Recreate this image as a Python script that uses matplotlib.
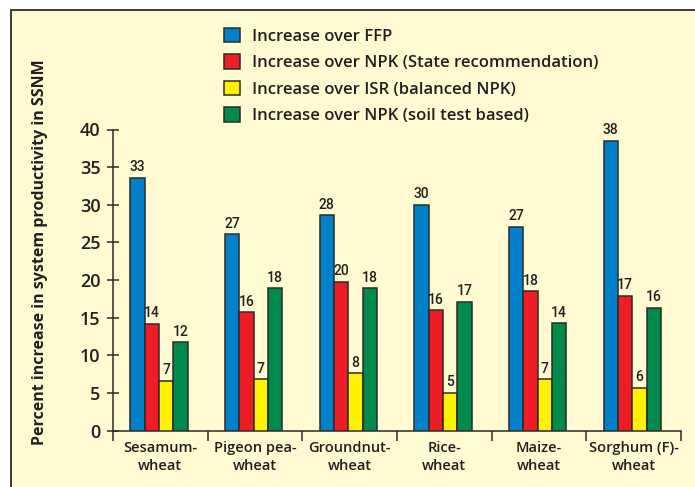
import numpy as np
import matplotlib
matplotlib.use("Agg")
import matplotlib.pyplot as plt
from matplotlib.patches import Rectangle

# data
categories = ["Sesamum-\nwheat", "Pigeon pea-\nwheat", "Groundnut-\nwheat",
              "Rice-\nwheat", "Maize-\nwheat", "Sorghum (F)-\nwheat"]
series_names = ["Increase over FFP",
                "Increase over NPK (State recommendation)",
                "Increase over ISR (balanced NPK)",
                "Increase over NPK (soil test based)"]
ffp = [33.6, 26.1, 28.6, 30.0, 27.1, 38.5]
npk_state = [14.2, 15.7, 19.8, 16.0, 18.5, 17.9]
isr = [6.6, 6.8, 7.6, 5.0, 6.8, 5.7]
npk_soil = [11.7, 18.9, 18.9, 17.1, 14.3, 16.3]
ffp_labels = ["33", "27", "28", "30", "27", "38"]
npk_state_labels = ["14", "16", "20", "16", "18", "17"]
isr_labels = ["7", "7", "8", "5", "7", "6"]
npk_soil_labels = ["12", "18", "18", "17", "14", "16"]
yticks = [0, 5, 10, 15, 20, 25, 30, 35, 40]

COLORS = ["#0081c9", "#ee1c25", "#fff200", "#008a4b"]
BG = "#fffad2"
EDGE = "#2b2b2b"
TXT = "#231f20"
FONT = "Open Sans"
NUM_FONT = "Roboto"

fig = plt.figure(figsize=(6.95, 4.87), dpi=100)
fig.patch.set_facecolor("white")
# cream panel with dark frame (runs past right and bottom edge)
fig.patches.append(Rectangle((11 / 695, -0.05), 1.0, 1 - 9.5 / 487 + 0.05,
                             transform=fig.transFigure, facecolor=BG,
                             edgecolor=EDGE, linewidth=1.3, zorder=-5))

ax = fig.add_axes([113 / 695, (487 - 430.5) / 487, 568 / 695, 301 / 487])
ax.set_facecolor("none")
ax.set_zorder(2)

x = np.arange(len(categories))
w = 0.151
all_vals = [ffp, npk_state, isr, npk_soil]
all_labels = [ffp_labels, npk_state_labels, isr_labels, npk_soil_labels]
for i, (vals, labs, c, name) in enumerate(zip(all_vals, all_labels, COLORS, series_names)):
    pos = x + (i - 1.5) * w - 0.015
    ax.bar(pos, vals, width=w, color=c, edgecolor=EDGE, linewidth=1.1, label=name, zorder=3)
    for p, v, t in zip(pos, vals, labs):
        ax.text(p, v + 0.45, t, ha="center", va="bottom", fontsize=10,
                family=NUM_FONT, fontweight="medium", color=TXT)

ax.set_xlim(-0.5, len(categories) - 0.5)
ax.set_ylim(0, 40)
ax.set_yticks(yticks)
ax.set_yticklabels([str(t) for t in yticks], family=FONT, fontweight="semibold",
                   fontsize=13, color=TXT)
ax.tick_params(axis="y", direction="inout", length=8, width=1.1, color=EDGE, pad=5)

ax.set_xticks(np.arange(len(categories) + 1) - 0.5)
ax.set_xticklabels([])
ax.tick_params(axis="x", direction="out", length=7, width=1.1, color=EDGE)
for xi, cat in zip(x, categories):
    ax.text(xi, -1.35, cat, ha="center", va="top", family=FONT, fontweight="semibold",
            fontsize=10.5, color=TXT, linespacing=1.4)

for s in ["top", "right"]:
    ax.spines[s].set_visible(False)
for s in ["left", "bottom"]:
    ax.spines[s].set_color(EDGE)
    ax.spines[s].set_linewidth(1.1)

fig.text(40 / 695, (487 - 252) / 487, "Percent increase in system productivity in SSNM",
         rotation=90, ha="center", va="center", family=FONT, fontweight="bold",
         fontsize=11.5, color=TXT)

leg = fig.legend(loc="upper left", bbox_to_anchor=(217 / 695, 1 - 21 / 487),
                 frameon=False, prop={"family": FONT, "weight": "semibold", "size": 12},
                 handlelength=0.95, handleheight=0.95, handletextpad=0.75, labelspacing=0.58,
                 borderaxespad=0)
for t in leg.get_texts():
    t.set_color(TXT)

fig.savefig("out.png", dpi=100, facecolor=fig.get_facecolor())
